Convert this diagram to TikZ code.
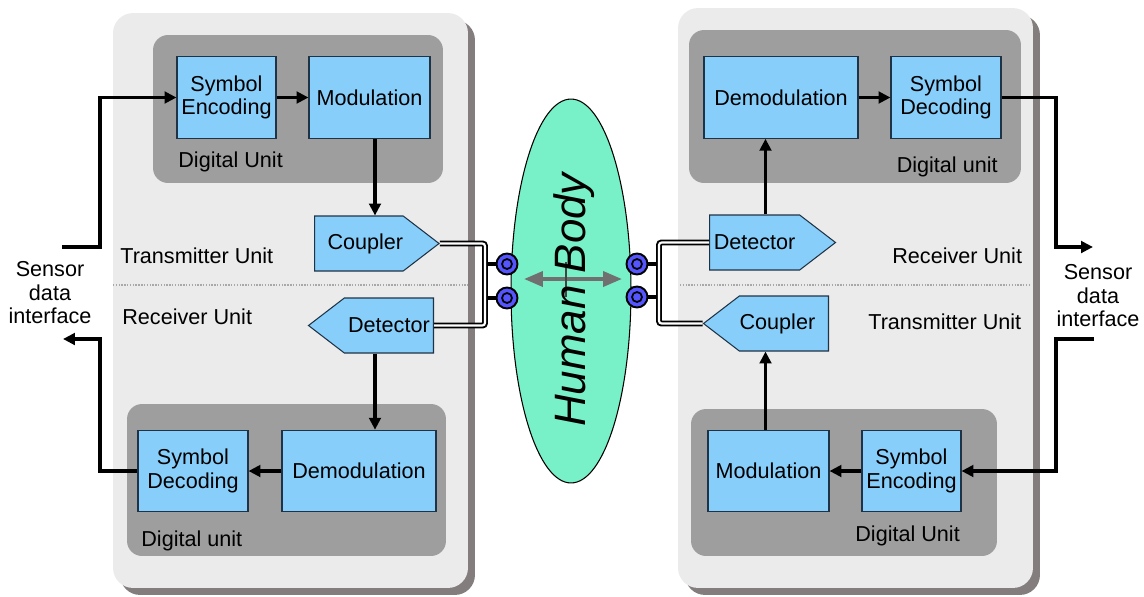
\documentclass[tikz,border=0pt]{standalone}
\usepackage{fontspec}
\setmainfont{Liberation Sans}
\usepackage{xcolor}
\definecolor{bcbody}{HTML}{78F0C8}
\definecolor{bcblock}{HTML}{87CEFA}
\definecolor{bcedge}{HTML}{1F3347}
\definecolor{bcunit}{HTML}{9E9E9E}
\definecolor{bcpanel}{HTML}{EBEBEB}
\definecolor{bcshadow}{HTML}{847D7D}
\definecolor{bcdots}{HTML}{A8A8A8}
\definecolor{bcelec}{HTML}{5555FF}
\definecolor{bcarrow}{HTML}{707070}
\usetikzlibrary{shapes.geometric,shapes.symbols,arrows.meta,shadows}

\begin{document}
\begin{tikzpicture}[x=0.02cm, y=-0.02cm,
  every node/.style={font=\fontsize{12.3}{13.4}\selectfont, inner sep=0pt},
  panel/.style={fill=bcpanel, rounded corners=0.4cm,
                drop shadow={shadow xshift=0.14cm, shadow yshift=-0.14cm,
                             fill=bcshadow, opacity=1}},
  unit/.style={fill=bcunit, rounded corners=0.3cm},
  block/.style={draw=bcedge, fill=bcblock, line width=0.6pt, align=center,
                minimum height=1.63cm},
  port/.style={draw=bcedge, fill=bcblock, line width=0.6pt, shape=signal,
               signal pointer angle=75, minimum height=1.1cm},
  flow/.style={-{Triangle[length=6.8pt,width=6.6pt]}, line width=1.9pt},
  wire/.style={line width=1.9pt},
  bus/.style={line width=1.1pt, double=white, double distance=1.2pt,
              rounded corners=1.5pt},
  sep/.style={draw=bcdots, line width=1.3pt, dash pattern=on 0.8pt off 0.8pt},
  elec/.style={circle, draw, line width=1.1pt, fill=bcelec, minimum size=0.42cm,
               path picture={\draw[line width=1pt]
                 (path picture bounding box.center) circle (0.1cm);}},
  bodyarr/.style={{Triangle[length=10.8pt,width=8.5pt]}-{Triangle[length=10.8pt,width=8.5pt]},
                  draw=bcarrow, line width=2.2pt}
]
\useasboundingbox (0,0) rectangle (1144,596);

%% Panels
\node[panel, minimum width=7.1cm, minimum height=11.5cm] (lpanel) at (290.5,300.5) {};
\node[panel, minimum width=7.1cm, minimum height=11.6cm] (rpanel) at (855.5,298) {};
\draw[sep] (113,285) -- (468,285);
\draw[sep] (680,285) -- (1030,285);

%% Digital units
\node[unit, minimum width=5.8cm,  minimum height=2.96cm] (ltopunit) at (298,109) {};
\node[unit, minimum width=6.38cm, minimum height=3.04cm] (lbotunit) at (286.5,480) {};
\node[unit, minimum width=6.64cm, minimum height=3.06cm] (rtopunit) at (855,106.5) {};
\node[unit, minimum width=6.12cm, minimum height=2.94cm] (rbotunit) at (844,482.5) {};

%% Blocks
\node[block, minimum width=1.98cm] (lenc)   at (226.5,97.5) {Symbol\\Encoding};
\node[block, minimum width=2.42cm] (lmod)   at (369.5,97.5) {Modulation};
\node[block, minimum width=2.2cm]  (ldec)   at (193,471)    {Symbol\\Decoding};
\node[block, minimum width=3.08cm] (ldemod) at (359,471)    {Demodulation};
\node[block, minimum width=3.08cm] (rdemod) at (781,97.5)   {Demodulation};
\node[block, minimum width=2.2cm]  (rdec)   at (946,97.5)   {Symbol\\Decoding};
\node[block, minimum width=2.42cm] (rmod)   at (768.5,471)  {Modulation};
\node[block, minimum width=1.98cm] (renc)   at (911.5,471)  {Symbol\\Encoding};

%% Coupler and detector
\node[port, signal to=east, minimum width=2.48cm, anchor=west] (lcp) at (314,243.5) {\hspace*{0.26cm}Coupler};
\node[port, signal to=west, minimum width=2.5cm,  anchor=east] (ldt) at (434,325.5) {Detector};
\node[port, signal to=east, minimum width=2.52cm, anchor=west] (rdt) at (709,242.5) {Detector};
\node[port, signal to=west, minimum width=2.5cm,  anchor=east] (rcp) at (829,323.5) {Coupler\hspace*{0.26cm}};

%% Labels
\node[anchor=west] (ltoplbl) at (178,162) {Digital Unit};
\node[anchor=west] (ltxlbl)  at (120,256) {Transmitter Unit};
\node[anchor=west] (lrxlbl)  at (122,317) {Receiver Unit};
\node[anchor=west] (lbotlbl) at (141,541) {Digital unit};
\node[anchor=east] (rtoplbl) at (998,167) {Digital unit};
\node[anchor=west] (rrxlbl)  at (892,256) {Receiver Unit};
\node[anchor=west] (rtxlbl)  at (868,322) {Transmitter Unit};
\node[anchor=west] (rbotlbl) at (855,536) {Digital Unit};
\node[align=center] (lsensor) at (50,293)   {Sensor\\data\\interface};
\node[align=center] (rsensor) at (1098,296) {Sensor\\data\\interface};

%% Data flow
\coordinate (lcol) at (375,0);
\coordinate (rcol) at (765.5,0);
\coordinate (lrail) at (100,0);
\coordinate (rrail) at (1056,0);
\coordinate (lin)  at (62,247);
\coordinate (lout) at (63,339);
\coordinate (rout) at (1093,247);
\coordinate (rin)  at (1094,339);

\draw[flow] (lin) -| (lrail |- lenc.west) -- (lenc.west);
\draw[flow] (lenc) -- (lmod);
\draw[flow] (lmod.south -| lcol) -- (lcp.north -| lcol);
\draw[flow] (ldt.south -| lcol) -- (ldemod.north -| lcol);
\draw[flow] (ldemod) -- (ldec);
\draw[flow] (ldec.west) -| (lrail |- lout) -- (lout);

\draw[flow] (rdt.north -| rcol) -- (rdemod.south -| rcol);
\draw[flow] (rdemod) -- (rdec);
\draw[flow] (rdec.east) -| (rrail |- rout) -- (rout);
\draw[flow] (rin) -| (rrail |- renc.east) -- (renc.east);
\draw[flow] (renc) -- (rmod);
\draw[flow] (rmod.north -| rcol) -- (rcp.south -| rcol);

%% Human body
\node[ellipse, draw, line width=0.6pt, fill=bcbody, minimum width=2.4cm,
      minimum height=7.68cm] (body) at (571,291) {};
\coordinate (bw) at (524,279);
\coordinate (be) at (622,279);
\draw[bodyarr] (bw) -- (be);
\draw[bcarrow!60!black, line width=0.6pt] (566,262) -- (566,297);
\node[rotate=90, font=\fontsize{25}{30}\selectfont\itshape] (bodytxt) at (574,300) {Human Body};

%% Electrodes and buses
\coordinate (lbus) at (485,284);
\coordinate (rbus) at (659,284);
\node[elec] (le1) at (507,264) {};
\node[elec] (le2) at (507,298) {};
\node[elec] (re1) at (637,264) {};
\node[elec] (re2) at (637,297) {};
\foreach \e in {le1,le2}
  \draw[wire] (\e.west) -- (\e -| lbus);
\foreach \e in {re1,re2}
  \draw[wire] (\e.east) -- (\e -| rbus);
\draw[bus] (lcp.east) -| (lbus) |- (ldt.east);
\draw[bus] (rdt.west) -| (rbus) |- (rcp.west);

\end{tikzpicture}
\end{document}
